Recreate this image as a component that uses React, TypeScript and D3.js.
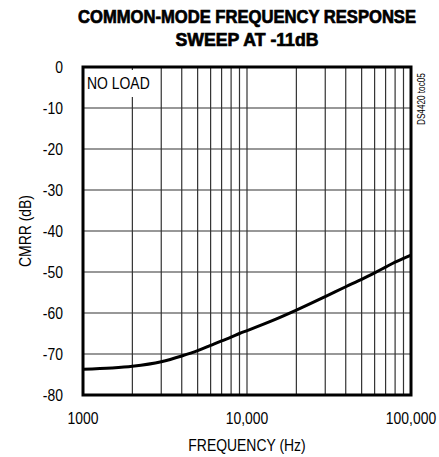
import React from 'react'
import * as d3 from 'd3'

// values
const freqs = [1000, 1500, 2000, 3000, 4000, 5000, 6000, 7000, 8000, 9000, 10000, 15000, 20000, 30000, 40000, 50000, 60000, 70000, 80000, 90000, 100000]
const cmrr = [-73.7, -73.4, -73.0, -71.9, -70.5, -69.2, -67.9, -66.8, -65.9, -65.0, -64.3, -61.5, -59.3, -56.0, -53.6, -51.8, -50.2, -48.8, -47.6, -46.7, -45.9]
const yTicks = [0, -10, -20, -30, -40, -50, -60, -70, -80]
const xTickLabels = ['1000', '10,000', '100,000']
const xTickValues = [1000, 10000, 100000]

const W = 439
const H = 457
const margin = { top: 67, right: 28, bottom: 62, left: 83 }
const font = '"Liberation Sans", Arial, sans-serif'

// narrow text: Arial metrics squeezed horizontally
const T = ({ x, y, rot = 0, anchor = 'start', size = 17, sx = 0.82, children }: any) => (
  <text
    transform={`translate(${x},${y}) rotate(${rot}) scale(${sx},1)`}
    textAnchor={anchor}
    fontFamily={font}
    fontSize={size}
  >
    {children}
  </text>
)

export default function App() {
  const x = d3.scaleLog().domain([1000, 100000]).range([margin.left, W - margin.right])
  const y = d3.scaleLinear().domain([-80, 0]).range([H - margin.bottom, margin.top])

  // minor log gridlines 2..9 in each decade
  const vGrid: number[] = []
  ;[1000, 10000].forEach(dec => {
    for (let k = 2; k <= 9; k++) vGrid.push(dec * k)
  })
  vGrid.push(10000)

  const line = d3.line<number>()
    .x((d, i) => x(freqs[i]))
    .y(d => y(d))
    .curve(d3.curveMonotoneX)

  const x0 = x.range()[0], x1 = x.range()[1]
  const y0 = y.range()[0], y1 = y.range()[1]
  const cx = (x0 + x1) / 2

  return (
    <svg width={W} height={H} style={{ position: 'absolute', left: 0, top: 0 }}>
      <rect width={W} height={H} fill="#fff" />
      <text x={cx} y={23} textAnchor="middle" fontFamily={font} fontWeight="bold" fontSize={18}
        stroke="#000" strokeWidth={0.7} textLength={338} lengthAdjust="spacingAndGlyphs">
        COMMON-MODE FREQUENCY RESPONSE
      </text>
      <text x={cx} y={46} textAnchor="middle" fontFamily={font} fontWeight="bold" fontSize={18}
        stroke="#000" strokeWidth={0.7} textLength={143} lengthAdjust="spacingAndGlyphs">
        SWEEP AT -11dB
      </text>

      {yTicks.slice(1, -1).map(t => (
        <line key={'h' + t} x1={x0} x2={x1} y1={y(t)} y2={y(t)} stroke="#333" strokeWidth={1.2} />
      ))}
      {vGrid.map(f => (
        <line key={'v' + f} x1={x(f)} x2={x(f)} y1={y1} y2={y0} stroke="#333" strokeWidth={1.2} />
      ))}

      <path d={line(cmrr) || ''} fill="none" stroke="#000" strokeWidth={3} />

      <rect x={x0} y={y1} width={x1 - x0} height={y0 - y1} fill="none" stroke="#000" strokeWidth={3} />

      <rect x={x0 + 3} y={y1 + 3} width={70} height={27} fill="#fff" />
      <T x={87} y={y1 + 22}>NO LOAD</T>

      {yTicks.map(t => (
        <T key={'yl' + t} x={63} y={y(t) + 6} anchor="end">{t}</T>
      ))}
      {xTickValues.map((v, i) => (
        <T key={'xl' + v} x={x(v)} y={424} anchor="middle">{xTickLabels[i]}</T>
      ))}
      <T x={cx} y={451} anchor="middle">FREQUENCY (Hz)</T>
      <T x={31} y={(y0 + y1) / 2} rot={-90} anchor="middle">CMRR (dB)</T>
      <T x={425} y={125} rot={-90} size={10}>DS4420 toc05</T>
    </svg>
  )
}
